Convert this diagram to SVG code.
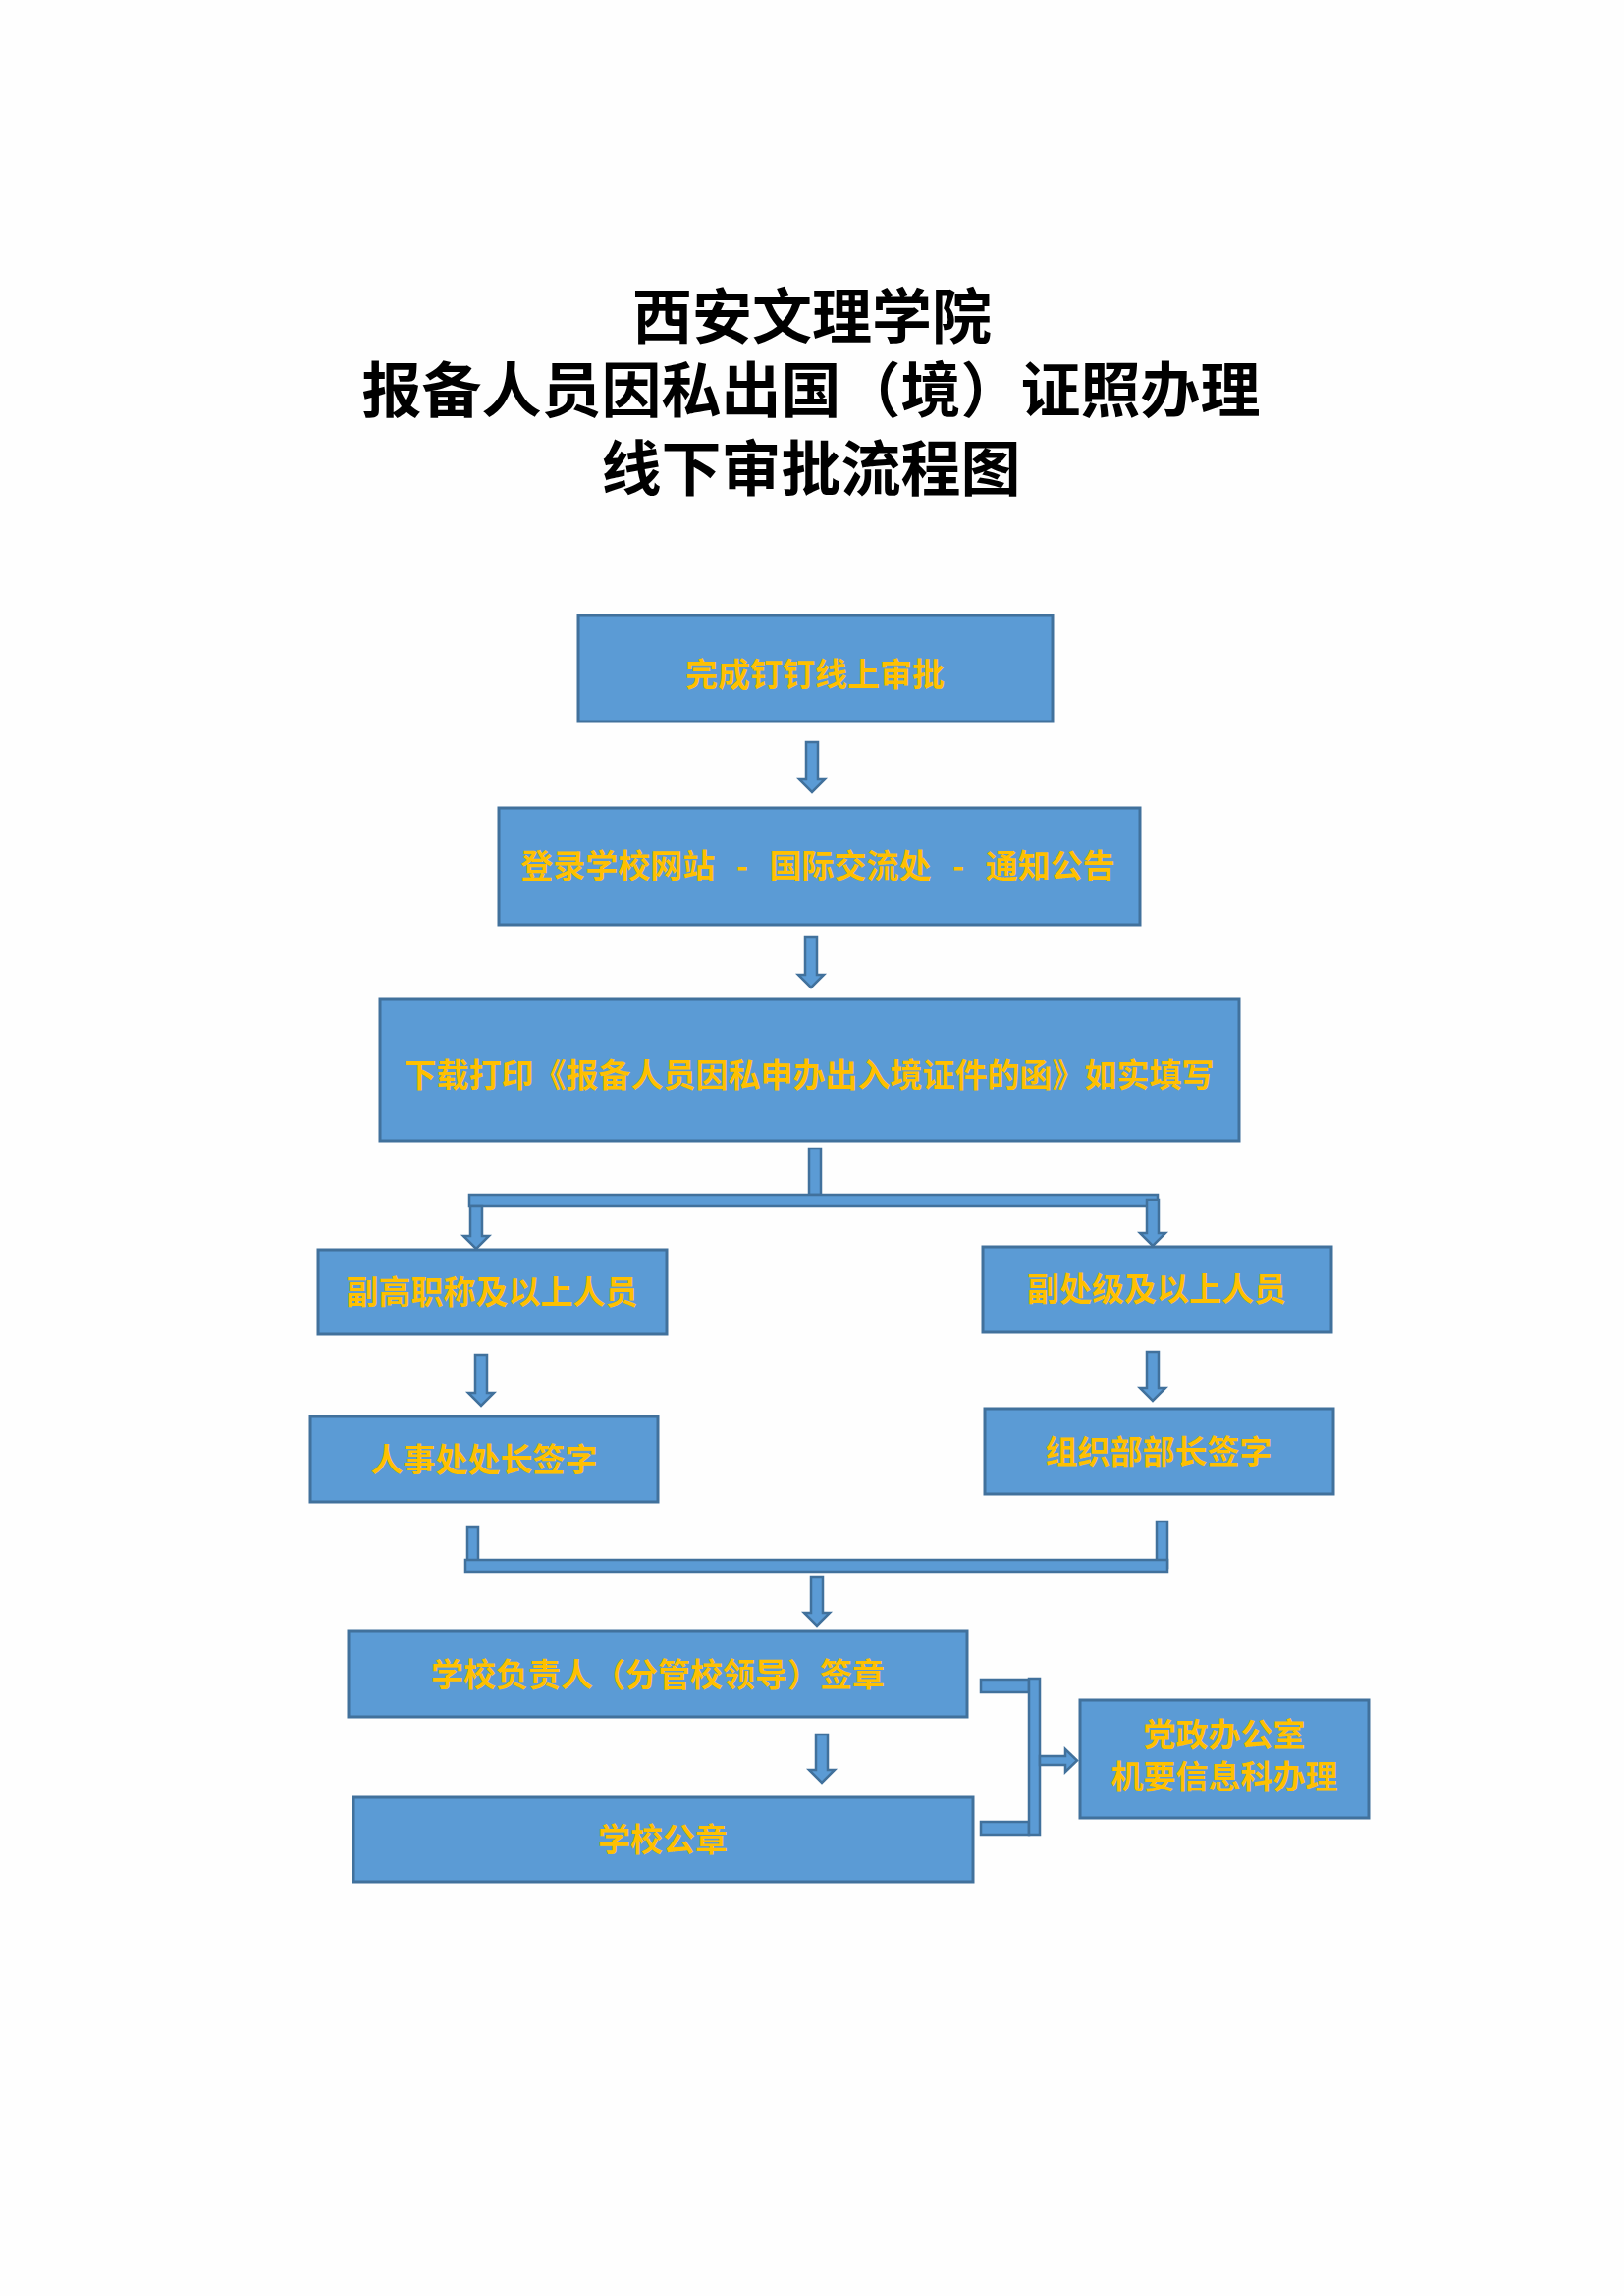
<svg xmlns="http://www.w3.org/2000/svg" width="1654" height="2339" viewBox="0 0 1654 2339">
<style>
.bg{fill:#fefefe}
.title{font-family:"Noto Sans CJK SC","Liberation Serif",serif;font-weight:700;font-size:61px;fill:#000;text-anchor:middle}
.box{fill:#5B9BD5;stroke:#41719C;stroke-width:3}
.lbl{font-family:"Noto Sans CJK SC","Liberation Sans",sans-serif;font-weight:700;font-size:33px;fill:#FFC000;text-anchor:middle}
.conn{fill:#5B9BD5;stroke:#41719C;stroke-width:2.5;stroke-linejoin:miter}
</style>
<rect class="bg" x="0" y="0" width="1654" height="2339"/>
<g id="title">
<text class="title" x="827" y="345">西安文理学院</text>
<text class="title" x="826" y="420">报备人员因私出国（境）证照办理</text>
<text class="title" x="826" y="500">线下审批流程图</text>
</g>
<g id="connectors">
<polygon class="conn" points="821,756 833,756 833,794 840,794 827,807 814,794 821,794"/>
<polygon class="conn" points="820,955 832,955 832,993 839,993 826,1006 813,993 820,993"/>
<rect class="conn" x="824" y="1170" width="12" height="47"/>
<rect class="conn" x="478" y="1217" width="701" height="12"/>
<polygon class="conn" points="479,1229 491,1229 491,1259 498,1259 485,1272 472,1259 479,1259"/>
<polygon class="conn" points="1168,1222 1180,1222 1180,1256 1187,1256 1174,1269 1161,1256 1168,1256"/>
<polygon class="conn" points="484,1380 496,1380 496,1419 503,1419 490,1432 477,1419 484,1419"/>
<polygon class="conn" points="1168,1377 1180,1377 1180,1414 1187,1414 1174,1427 1161,1414 1168,1414"/>
<rect class="conn" x="476" y="1556" width="11" height="41"/>
<rect class="conn" x="1178" y="1550" width="11" height="47"/>
<rect class="conn" x="474" y="1589" width="715" height="12"/>
<polygon class="conn" points="826,1607 838,1607 838,1643 845,1643 832,1656 819,1643 826,1643"/>
<polygon class="conn" points="831,1767 843,1767 843,1803 850,1803 837,1816 824,1803 831,1803"/>
<rect class="conn" x="999" y="1711" width="49" height="13"/>
<rect class="conn" x="999" y="1856" width="49" height="13"/>
<rect class="conn" x="1048" y="1710" width="11" height="159"/>
<polygon class="conn" points="1059,1789 1085,1789 1085,1782 1097,1793.5 1085,1805 1085,1798 1059,1798"/>
</g>
<g id="n1"><rect class="box" x="589" y="627" width="483" height="108"/><text class="lbl" x="830" y="699">完成钉钉线上审批</text></g>
<g id="n2"><rect class="box" x="508" y="823" width="653" height="119"/><text class="lbl" x="833" y="894">登录学校网站<tspan dx="14"> - </tspan><tspan dx="14">国际交流处</tspan><tspan dx="14"> - </tspan><tspan dx="14">通知公告</tspan></text></g>
<g id="n3"><rect class="box" x="387" y="1018" width="875" height="144"/><text class="lbl" x="824" y="1107">下载打印《报备人员因私申办出入境证件的函》如实填写</text></g>
<g id="n4"><rect class="box" x="324" y="1273" width="355" height="86"/><text class="lbl" x="501" y="1328">副高职称及以上人员</text></g>
<g id="n5"><rect class="box" x="1001" y="1270" width="355" height="87"/><text class="lbl" x="1178" y="1325">副处级及以上人员</text></g>
<g id="n6"><rect class="box" x="316" y="1443" width="354" height="87"/><text class="lbl" x="493" y="1499">人事处处长签字</text></g>
<g id="n7"><rect class="box" x="1003" y="1435" width="355" height="87"/><text class="lbl" x="1180" y="1491">组织部部长签字</text></g>
<g id="n8"><rect class="box" x="355" y="1662" width="630" height="87"/><text class="lbl" x="670" y="1718">学校负责人（分管校领导）签章</text></g>
<g id="n9"><rect class="box" x="360" y="1831" width="631" height="86"/><text class="lbl" x="675" y="1886">学校公章</text></g>
<g id="n10"><rect class="box" x="1100" y="1732" width="294" height="120"/><text class="lbl" x="1247" y="1779">党政办公室</text><text class="lbl" x="1247" y="1822">机要信息科办理</text></g>
</svg>
